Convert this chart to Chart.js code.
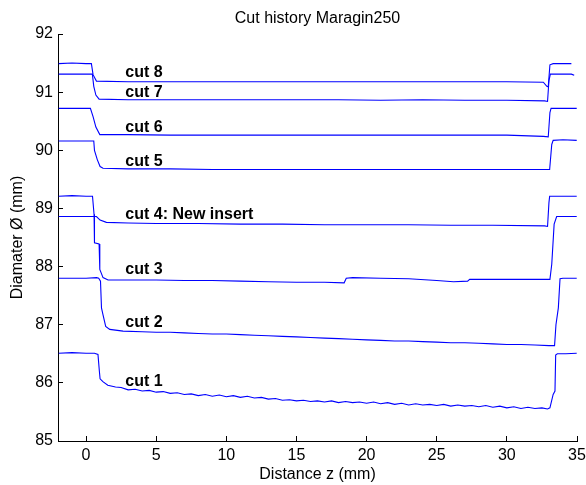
<!DOCTYPE html>
<html>
<head>
<meta charset="utf-8">
<script src="https://cdn.jsdelivr.net/npm/chart.js@4"></script>
<style>
  body { margin: 0; background: #fff; }
  #wrap { width: 586px; height: 485px; position: relative; }
</style>
</head>
<body>
<div id="wrap"><canvas id="cut-history-chart"></canvas></div>
<script>
// measured profiles, [distance z (mm), diameter (mm)]
var cut1 = [[-1.95,86.51],[-1,86.52],[0,86.51],[0.6,86.51],[0.85,86.49],[0.95,86.20],[1.0,86.07],[1.2,86.02],[1.55,85.96],[2.1,85.93],
  [2.5,85.92],[3,85.88],[3.5,85.89],[4,85.86],[4.5,85.87],[5,85.84],[5.5,85.85],[6,85.82],[6.5,85.83],[7,85.80],[7.5,85.81],[8,85.78],
  [8.5,85.80],[9,85.77],[9.5,85.79],[10,85.76],[10.5,85.78],[11,85.75],[11.5,85.77],[12,85.74],[12.5,85.75],[13,85.72],[13.5,85.73],
  [14,85.70],[14.5,85.71],[15,85.69],[15.5,85.70],[16,85.68],[16.5,85.69],[17,85.67],[17.5,85.69],[18,85.66],[18.5,85.68],[19,85.66],
  [19.5,85.67],[20,85.65],[20.5,85.67],[21,85.64],[21.5,85.66],[22,85.63],[22.5,85.65],[23,85.62],[23.5,85.64],[24,85.62],[24.5,85.63],
  [25,85.61],[25.5,85.63],[26,85.60],[26.5,85.62],[27,85.60],[27.5,85.61],[28,85.59],[28.5,85.61],[29,85.58],[29.5,85.60],[30,85.57],
  [30.5,85.59],[31,85.56],[31.5,85.58],[32,85.56],[32.5,85.57],[32.9,85.55],[33.07,85.57],[33.3,85.80],[33.43,85.86],[33.48,86.48],
  [33.6,86.50],[34.2,86.50],[34.98,86.51]];
var cut2 = [[-1.95,87.80],[-1,87.80],[0,87.80],[0.75,87.81],[0.9,87.80],[1.03,87.75],[1.1,87.29],[1.21,87.17],[1.40,86.97],[1.69,86.92],
  [2.64,86.89],[4,86.88],[5,86.87],[6,86.87],[7,86.86],[8,86.85],[9,86.84],[10,86.84],[11,86.83],[12,86.82],[13,86.81],[14,86.80],
  [15,86.79],[16,86.78],[17,86.77],[18,86.76],[19,86.75],[20,86.74],[21,86.73],[22,86.72],[23,86.72],[24,86.71],[25,86.70],[26,86.69],
  [27,86.69],[28,86.68],[29,86.67],[30,86.66],[31,86.66],[32,86.65],[33,86.64],[33.4,86.64],[33.5,87.00],[33.67,87.29],[33.79,87.79],
  [34,87.80],[34.5,87.80],[34.98,87.80]];
var cut3 = [[-1.95,89.21],[-1,89.22],[0,89.21],[0.46,89.21],[0.57,88.90],[0.6,88.41],[0.93,88.39],[0.98,87.95],[1.21,87.81],[1.57,87.77],
  [3,87.77],[5,87.77],[7,87.76],[9,87.76],[11,87.75],[13,87.74],[15,87.73],[17,87.73],[18.4,87.72],[18.55,87.80],[19,87.81],[21,87.80],
  [23,87.79],[25,87.76],[26.2,87.74],[27.2,87.75],[27.35,87.78],[29,87.78],[31,87.78],[33.07,87.78],[33.2,88.04],[33.37,88.73],
  [33.55,88.86],[34.2,88.86],[34.98,88.86]];
var cut4 = [[-1.95,88.86],[-1,88.86],[0,88.86],[0.74,88.86],[1.0,88.80],[1.45,88.76],[3,88.75],[5,88.74],[8,88.74],[11,88.73],[14,88.73],
  [17,88.72],[20,88.72],[23,88.72],[26,88.71],[29,88.71],[32.7,88.70],[32.9,88.69],[33.0,89.10],[33.05,89.21],[34,89.21],[34.98,89.21]];
var cut5 = [[-1.95,90.16],[-1,90.16],[0,90.16],[0.55,90.16],[0.6,90.00],[0.8,89.84],[1.0,89.72],[1.21,89.69],[3,89.68],[6,89.68],
  [9,89.67],[12,89.67],[15,89.67],[18,89.67],[21,89.67],[24,89.67],[27,89.67],[30,89.67],[33.05,89.67],[33.2,90.10],[33.3,90.17],
  [34,90.18],[34.98,90.17]];
var cut6 = [[-1.95,90.72],[-1,90.72],[0,90.72],[0.31,90.72],[0.5,90.58],[0.7,90.40],[0.98,90.27],[3,90.27],[6,90.26],[9,90.26],
  [12,90.26],[15,90.26],[18,90.26],[21,90.26],[24,90.26],[27,90.26],[30,90.26],[32.6,90.24],[32.95,90.23],[33.07,90.65],[33.15,90.72],
  [34,90.72],[34.98,90.72]];
var cut7 = [[-1.95,91.31],[-1,91.31],[0,91.31],[0.45,91.31],[0.55,91.10],[0.7,90.95],[0.93,90.88],[3,90.87],[6,90.87],[9,90.87],
  [12,90.87],[15,90.87],[18,90.87],[21,90.86],[24,90.87],[27,90.86],[30,90.86],[32.7,90.85],[32.9,90.84],[33.0,91.20],[33.1,91.31],
  [34,91.31],[34.6,91.31],[34.8,91.29]];
var cut8 = [[-1.95,91.49],[-1,91.50],[0,91.49],[0.38,91.49],[0.5,91.30],[0.74,91.19],[3,91.18],[6,91.18],[9,91.18],[12,91.18],
  [15,91.18],[18,91.18],[21,91.18],[24,91.18],[27,91.18],[30,91.18],[32.6,91.17],[32.85,91.10],[32.95,91.09],[33.07,91.47],
  [33.3,91.49],[34.6,91.49]];

var cuts = [cut1, cut2, cut3, cut4, cut5, cut6, cut7, cut8];

// text labels placed in data coordinates
var label_text = ['cut 1', 'cut 2', 'cut 3', 'cut 4: New insert', 'cut 5', 'cut 6', 'cut 7', 'cut 8'];
var label_x = [2.8, 2.8, 2.8, 2.8, 2.8, 2.8, 2.8, 2.8];
var label_y = [86.02, 87.03, 87.95, 88.90, 89.80, 90.39, 90.995, 91.335];

var x_ticks = [0, 5, 10, 15, 20, 25, 30, 35];
var y_ticks = [85, 86, 87, 88, 89, 90, 91, 92];

var chart_title = 'Cut history Maragin250';

const FONT = 'Arial, "Liberation Sans", sans-serif';

const data_cuts = {
  datasets: cuts.map(function (c, i) {
    return {
      label: label_text[i],
      data: c.map(function (p) { return {x: p[0], y: p[1]}; }),
      borderColor: '#0000ff',
      borderWidth: 1.1,
      pointRadius: 0,
      fill: false,
      tension: 0
    };
  })
};

// curve labels + title centred over the plot area (matlab style)
const cutLabels = {
  id: 'cutLabels',
  afterDatasetsDraw(chart) {
    const ctx = chart.ctx;
    const xs = chart.scales.x, ys = chart.scales.y;
    const area = chart.chartArea;
    ctx.save();
    ctx.fillStyle = '#000';
    ctx.font = 'bold 16px ' + FONT;
    ctx.textAlign = 'left';
    ctx.textBaseline = 'middle';
    for (let i = 0; i < label_text.length; i++) {
      ctx.fillText(label_text[i], xs.getPixelForValue(label_x[i]), ys.getPixelForValue(label_y[i]));
    }
    ctx.font = '16px ' + FONT;
    ctx.textAlign = 'center';
    ctx.fillText(chart_title, (area.left + area.right) / 2, area.top - 15);
    ctx.restore();
  }
};

const config_cuts = {
  type: 'line',
  data: data_cuts,
  options: {
    responsive: true,
    maintainAspectRatio: false,
    animation: false,
    layout: { padding: { left: 0, right: 0, top: 34, bottom: 0 } },
    plugins: {
      legend: { display: false },
      tooltip: { enabled: false },
      title: { display: false }
    },
    scales: {
      x: {
        type: 'linear',
        min: -2,
        max: 35,
        afterBuildTicks: function (s) { s.ticks = x_ticks.map(function (v) { return {value: v}; }); },
        afterFit: function (s) { s.height = 44; s.paddingLeft = 0; s.paddingRight = 9; },
        grid: { drawOnChartArea: false, drawTicks: true, tickLength: -5, color: '#000' },
        border: { color: '#000', width: 1 },
        ticks: { color: '#000', padding: 10, maxRotation: 0, font: { family: FONT, size: 16 } },
        title: { display: true, text: 'Distance z (mm)', color: '#000', padding: { top: 0, bottom: 1 },
                 font: { family: FONT, size: 16 } }
      },
      y: {
        type: 'linear',
        min: 85,
        max: 92,
        afterBuildTicks: function (s) { s.ticks = y_ticks.map(function (v) { return {value: v}; }); },
        afterFit: function (s) { s.width = 58; },
        grid: { drawOnChartArea: false, drawTicks: true, tickLength: -5, color: '#000' },
        border: { color: '#000', width: 1 },
        ticks: { color: '#000', padding: 10, font: { family: FONT, size: 16 } },
        title: { display: true, text: 'Diamater Ø (mm)', color: '#000', padding: { top: 8, bottom: 0 },
                 font: { family: FONT, size: 16 } }
      }
    }
  },
  plugins: [cutLabels]
};

const cut_history_chart = new Chart(
  document.getElementById('cut-history-chart'),
  config_cuts
);
</script>
</body>
</html>
